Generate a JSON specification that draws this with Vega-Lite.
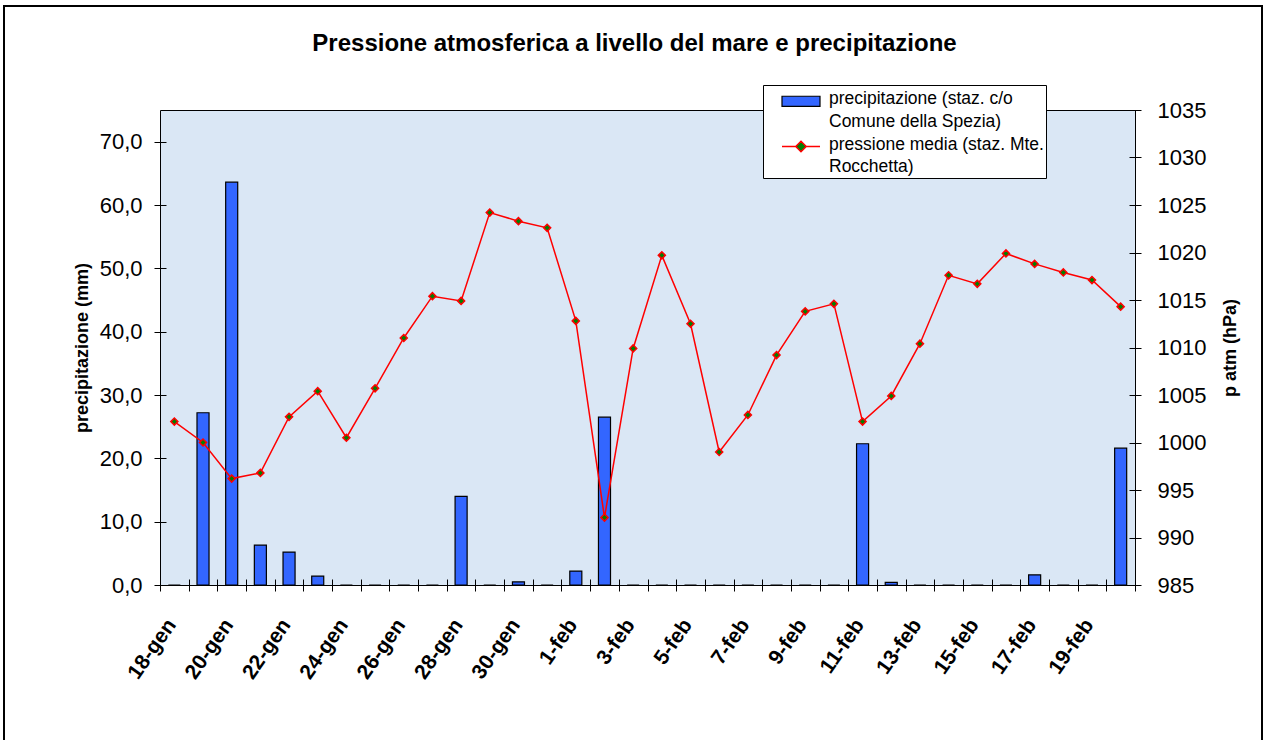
{
  "$schema": "https://vega.github.io/schema/vega-lite/v6.json",
  "width": 975,
  "height": 475,
  "autosize": {"type": "none"},
  "padding": {"left": 160, "top": 110, "right": 133, "bottom": 155},
  "background": "white",
  "config": {
    "locale": {"number": {"decimal": ",", "thousands": ".", "grouping": [3], "currency": ["", " €"]}},
    "font": "Liberation Sans",
    "view": {"fill": "#DAE7F5", "stroke": "black", "strokeWidth": 1},
    "axis": {"labelColor": "black", "titleColor": "black", "tickColor": "black", "tickWidth": 1, "domain": false, "grid": false, "labelFont": "Liberation Sans", "titleFont": "Liberation Sans"},
    "style": {"guide-label": {"lineHeight": 22.5}}
  },
  "title": {
    "text": "Pressione atmosferica a livello del mare e precipitazione",
    "font": "Liberation Sans",
    "fontSize": 24,
    "fontWeight": "bold",
    "color": "black",
    "anchor": "middle",
    "dx": -13,
    "offset": -50
  },
  "data": {
    "values": [
      {"giorno": "18-gen", "precipitazione": 0, "pressione": 1002.2},
      {"giorno": "19-gen", "precipitazione": 27.2, "pressione": 1000.0},
      {"giorno": "20-gen", "precipitazione": 63.6, "pressione": 996.2},
      {"giorno": "21-gen", "precipitazione": 6.3, "pressione": 996.8},
      {"giorno": "22-gen", "precipitazione": 5.2, "pressione": 1002.7},
      {"giorno": "23-gen", "precipitazione": 1.4, "pressione": 1005.4},
      {"giorno": "24-gen", "precipitazione": 0, "pressione": 1000.5},
      {"giorno": "25-gen", "precipitazione": 0, "pressione": 1005.7},
      {"giorno": "26-gen", "precipitazione": 0, "pressione": 1011.0},
      {"giorno": "27-gen", "precipitazione": 0, "pressione": 1015.4},
      {"giorno": "28-gen", "precipitazione": 14.0, "pressione": 1014.9},
      {"giorno": "29-gen", "precipitazione": 0, "pressione": 1024.2},
      {"giorno": "30-gen", "precipitazione": 0.5, "pressione": 1023.3},
      {"giorno": "31-gen", "precipitazione": 0, "pressione": 1022.6},
      {"giorno": "1-feb", "precipitazione": 2.2, "pressione": 1012.8},
      {"giorno": "2-feb", "precipitazione": 26.5, "pressione": 992.1},
      {"giorno": "3-feb", "precipitazione": 0, "pressione": 1009.9},
      {"giorno": "4-feb", "precipitazione": 0, "pressione": 1019.7},
      {"giorno": "5-feb", "precipitazione": 0, "pressione": 1012.5},
      {"giorno": "6-feb", "precipitazione": 0, "pressione": 999.0},
      {"giorno": "7-feb", "precipitazione": 0, "pressione": 1002.9},
      {"giorno": "8-feb", "precipitazione": 0, "pressione": 1009.2},
      {"giorno": "9-feb", "precipitazione": 0, "pressione": 1013.8},
      {"giorno": "10-feb", "precipitazione": 0, "pressione": 1014.6},
      {"giorno": "11-feb", "precipitazione": 22.3, "pressione": 1002.2},
      {"giorno": "12-feb", "precipitazione": 0.4, "pressione": 1004.9},
      {"giorno": "13-feb", "precipitazione": 0, "pressione": 1010.4},
      {"giorno": "14-feb", "precipitazione": 0, "pressione": 1017.6},
      {"giorno": "15-feb", "precipitazione": 0, "pressione": 1016.7},
      {"giorno": "16-feb", "precipitazione": 0, "pressione": 1019.9},
      {"giorno": "17-feb", "precipitazione": 1.6, "pressione": 1018.8},
      {"giorno": "18-feb", "precipitazione": 0, "pressione": 1017.9},
      {"giorno": "19-feb", "precipitazione": 0, "pressione": 1017.1},
      {"giorno": "20-feb", "precipitazione": 21.6, "pressione": 1014.3}
    ]
  },
  "encoding": {
    "x": {
      "field": "giorno",
      "type": "ordinal",
      "sort": null,
      "scale": {"paddingInner": 0, "paddingOuter": 0},
      "axis": {
        "title": null,
        "tickBand": "extent",
        "offset": -6,
        "tickSize": 12,
        "labelAngle": -55,
        "labelAlign": "right",
        "labelBaseline": "middle",
        "labelFontSize": 21,
        "labelFontWeight": "bold",
        "labelPadding": 30,
        "labelOffset": -3,
        "labelOverlap": false,
        "labelBound": false,
        "labelFlush": false,
        "labelExpr": "indexof(['18-gen','20-gen','22-gen','24-gen','26-gen','28-gen','30-gen','1-feb','3-feb','5-feb','7-feb','9-feb','11-feb','13-feb','15-feb','17-feb','19-feb'], datum.value) >= 0 ? datum.value : ''"
      }
    }
  },
  "layer": [
    {
      "mark": {"type": "bar", "stroke": "black", "strokeWidth": 1.2, "width": {"band": 0.42}},
      "encoding": {
        "y": {
          "field": "precipitazione",
          "type": "quantitative",
          "scale": {"domain": [0, 75]},
          "axis": {
            "title": "precipitazione (mm)",
            "titleFontSize": 18,
            "titleFontWeight": "bold",
            "titlePadding": 8,
            "values": [0, 10, 20, 30, 40, 50, 60, 70],
            "format": ".1f",
            "labelFontSize": 22,
            "offset": -6,
            "tickSize": 12,
            "labelPadding": 12
          }
        },
        "fill": {
          "datum": "precipitazione",
          "type": "nominal",
          "scale": {"domain": ["precipitazione"], "range": ["#3366FF"]},
          "legend": {
            "orient": "none",
            "legendX": 603,
            "legendY": -32.25,
            "title": null,
            "padding": 2,
            "zindex": 2,
            "symbolType": "M-2,0.63L2,0.63L2,1.69L-2,1.69Z",
            "symbolSize": 361,
            "symbolOffset": 25.5,
            "symbolStrokeColor": "black",
            "symbolStrokeWidth": 1.2,
            "labelFont": "Liberation Sans",
            "labelFontSize": 17.5,
            "labelColor": "black",
            "labelLimit": 400,
            "labelOffset": 17.5,
            "labelBaseline": "top",
            "labelExpr": "['precipitazione (staz. c/o', 'Comune della Spezia)']"
          }
        }
      }
    },
    {
      "encoding": {
        "y": {
          "field": "pressione",
          "type": "quantitative",
          "scale": {"domain": [985, 1035]},
          "axis": {
            "orient": "right",
            "title": "p atm (hPa)",
            "titleFontSize": 18,
            "titleFontWeight": "bold",
            "titleAngle": 270,
            "titleBaseline": "top",
            "titlePadding": 16,
            "values": [985, 990, 995, 1000, 1005, 1010, 1015, 1020, 1025, 1030, 1035],
            "format": "d",
            "labelFontSize": 22,
            "offset": -6,
            "tickSize": 12,
            "labelPadding": 16
          }
        }
      },
      "layer": [
        {
          "mark": {"type": "line", "color": "#FF0000", "strokeWidth": 1.5}
        },
        {
          "mark": {"type": "point", "shape": "diamond", "filled": true, "fill": "#008000", "strokeWidth": 1.5, "size": 50, "opacity": 1},
          "encoding": {
            "stroke": {
              "datum": "pressione",
              "type": "nominal",
              "scale": {"domain": ["pressione"], "range": ["#FF0000"]},
              "legend": {
                "orient": "none",
                "legendX": 603,
                "legendY": -25,
                "title": " ",
                "titleFontSize": 30,
                "titlePadding": 8,
                "padding": 2,
                "zindex": 1,
                "strokeColor": "black",
                "fillColor": "white",
                "symbolType": "M-2,1.16L-0.55,1.16M0.55,1.16L2,1.16M0,0.61L0.55,1.16L0,1.71L-0.55,1.16Z",
                "symbolSize": 361,
                "symbolOffset": 25.5,
                "symbolFillColor": "#008000",
                "symbolStrokeWidth": 1.5,
                "labelFont": "Liberation Sans",
                "labelFontSize": 17.5,
                "labelColor": "black",
                "labelLimit": 400,
                "labelOffset": 17.5,
                "labelBaseline": "top",
                "labelExpr": "['pressione media (staz. Mte.', 'Rocchetta)']"
              }
            }
          }
        },
        {
          "mark": {"type": "point", "filled": true, "opacity": 0},
          "encoding": {
            "color": {
              "field": "pressione",
              "type": "quantitative",
              "scale": {"range": ["transparent", "transparent"]},
              "legend": {
                "orient": "none",
                "legendX": -156,
                "legendY": -104,
                "direction": "horizontal",
                "gradientLength": 1258,
                "gradientThickness": 760,
                "gradientStrokeColor": "black",
                "gradientStrokeWidth": 2,
                "title": null,
                "padding": 0,
                "zindex": 0,
                "labelExpr": "''",
                "labelFontSize": 1
              }
            }
          }
        }
      ]
    }
  ],
  "resolve": {"scale": {"y": "independent"}}
}
